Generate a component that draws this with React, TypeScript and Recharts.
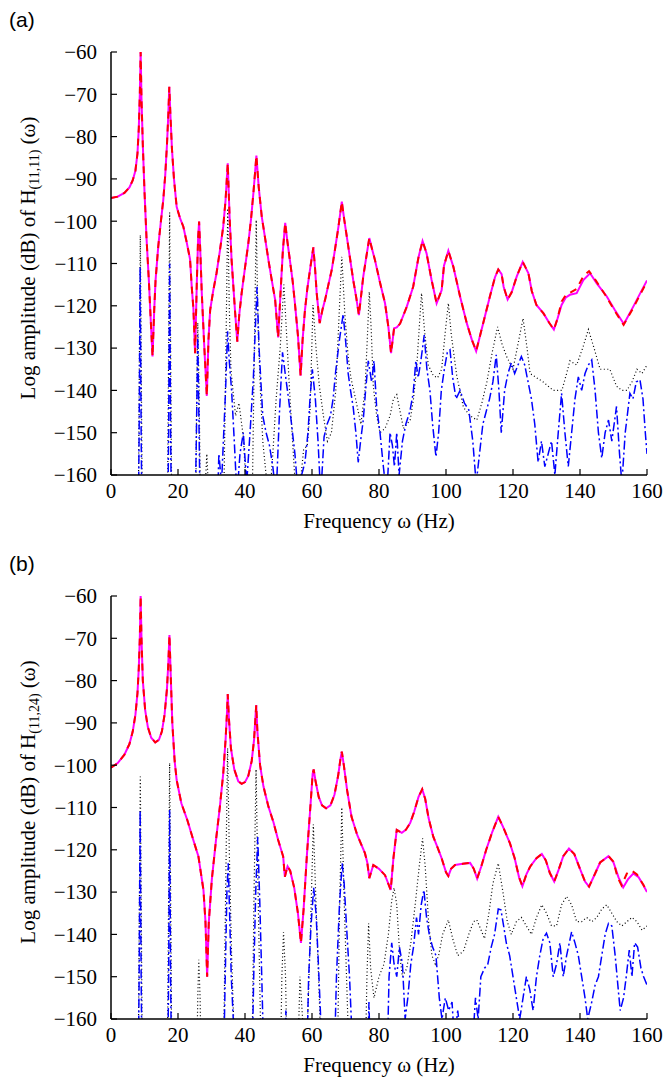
import { Line, LineChart, XAxis, YAxis } from "recharts";

const SERIF = '"Liberation Serif", "Times New Roman", serif';
const SANS = '"Liberation Sans", Arial, sans-serif';

const FREQ_TICKS = [0, 20, 40, 60, 80, 100, 120, 140, 160];
const DB_TICKS = [-160, -150, -140, -130, -120, -110, -100, -90, -80, -70, -60];

// (a) H(11,11) -- [frequency Hz, dB]
const UPPER_A = [
  [0, -94.5], [2, -94.2], [4, -93.3], [5.5, -92], [6.5, -90.3], [7.3, -88], [7.9, -84], [8.3, -78],
  [8.6, -70], [8.85, -60], [9.1, -71], [9.5, -82], [10, -93], [10.6, -104], [11.3, -114], [11.9, -124],
  [12.4, -132], [12.9, -121], [13.3, -114], [14.1, -106], [14.9, -100], [15.6, -95], [16.2, -89],
  [16.7, -82], [17.1, -75], [17.4, -68.2], [17.8, -76], [18.2, -83], [18.8, -90], [19.6, -96.6],
  [20.6, -99.3], [21.6, -101.3], [22.6, -105], [23.6, -109], [24.1, -115.5], [24.6, -120.7],
  [25.1, -131.2], [25.6, -115], [26, -104], [26.3, -100.1], [26.7, -108], [27.1, -117], [27.8, -128.9],
  [28.6, -141.3], [29.1, -128], [29.6, -121], [30.5, -116.5], [31.5, -112.3], [32.5, -107],
  [33.5, -101.3], [34.2, -95], [34.85, -86.3], [35.4, -99], [36, -109.2], [37, -121], [37.7, -128.5],
  [38.3, -122], [39, -117], [40, -111], [41, -105.2], [41.8, -99.5], [42.5, -93.4], [43, -88.5],
  [43.4, -84.5], [44.1, -92], [45, -98.9], [46, -104], [47, -109.2], [48, -114], [49, -118.6],
  [49.9, -127.5], [50.6, -117], [51.3, -107], [52, -100.4], [52.6, -104.5], [53.4, -109.2], [54.2, -114],
  [54.9, -119.4], [55.8, -127], [56.6, -136.5], [57.2, -128], [57.9, -121], [58.6, -116], [59.4, -111.5],
  [60.4, -106.2], [60.9, -111], [61.4, -117], [62.3, -124.1], [63.1, -121], [63.9, -118.6], [64.9, -115],
  [65.9, -111.5], [66.9, -106.5], [67.9, -101.3], [68.9, -95.4], [69.6, -99.5], [70.4, -103.7],
  [71.3, -108.5], [72.3, -113.9], [73.2, -118], [74, -122.2], [74.6, -118], [75.3, -113.1], [76.2, -108.5],
  [77.1, -104], [77.9, -106.5], [78.8, -109.2], [80.3, -114.5], [81.8, -119.4], [82.8, -125],
  [83.6, -131.2], [84.5, -125.3], [85.3, -125.1], [86.3, -124.2], [88.3, -120.2], [90.2, -115.5],
  [91.8, -108.5], [93, -104.7], [94.2, -107.6], [95.7, -113.9], [97.2, -119.4], [98.7, -116.3],
  [99.4, -110.5], [100.7, -107], [102.2, -110.8], [104.2, -117.8], [106.2, -124.1], [107.7, -128],
  [109, -130.7], [111.1, -124.1], [113.1, -117.8], [114.6, -113.3], [115.6, -111.4], [116.6, -112.5],
  [117.2, -115.5], [118.4, -118.5], [119.6, -116.8], [121.1, -113.1], [122.9, -109.6], [124.6, -112.3],
  [125.6, -116.5], [127, -119.8], [129.1, -121.8], [130.8, -124], [132.2, -125.6], [133.3, -123],
  [134.5, -119.8], [135.8, -118], [137, -117.4], [139, -117], [141, -113.9], [143, -112.3], [145, -114.7],
  [148, -117.8], [150.4, -121], [153.1, -124.3], [155.9, -120.2], [158, -117], [160, -114],
];
const RED_A_TAIL = [
  [134.5, -119], [135.8, -117.4], [137, -116.9], [139, -116], [141, -113], [142.7, -111.8],
  [144.7, -114], [147.6, -117.5], [150.2, -121], [153, -124.5], [155.9, -120.5], [158, -117.3], [160, -114.3],
];
const DOTTED_A = [
  [0, -175], [8.1, -175], [8.5, -130], [8.75, -103.3], [9, -130], [9.4, -175], [16.8, -175], [17.2, -130],
  [17.5, -97.9], [17.8, -130], [18.2, -175], [25.2, -175], [25.6, -140], [25.9, -124], [26.3, -140],
  [26.8, -175], [28, -165], [28.6, -155], [29.2, -165], [30, -175], [33.5, -175], [34.4, -125],
  [34.85, -97], [35.3, -120], [35.8, -135], [36.4, -140], [37.2, -146], [38.2, -143], [39.5, -151],
  [40.5, -165], [42, -175], [42.8, -130], [43.35, -99.7], [43.9, -125], [44.6, -140], [45.3, -152],
  [46.3, -160], [47, -170], [48.3, -155], [49.3, -142], [50.5, -130], [51.6, -115], [52.5, -128],
  [53.3, -140], [54.2, -152], [55.2, -165], [56.5, -162], [57.5, -154], [58.6, -153], [59.4, -145],
  [60.3, -119.8], [61.2, -130], [62.2, -139], [63.4, -146], [64.6, -152], [65.8, -150], [67.1, -140],
  [68.1, -122], [68.9, -108.4], [69.8, -122], [70.8, -132], [71.6, -137], [73, -142], [74.6, -148],
  [75.8, -140], [76.5, -128], [77.1, -116.7], [77.7, -126], [78.3, -139], [79.3, -146], [80.3, -150],
  [81.8, -149], [83.3, -146], [84.3, -142], [85.3, -141], [86.3, -145], [87.3, -149], [89.3, -147],
  [90.3, -142], [91.3, -134], [92.1, -124], [92.7, -117], [93.6, -126], [94.7, -134], [96.2, -136.5],
  [97.5, -137], [98.7, -135], [99.8, -126], [100.7, -119.4], [101.6, -127], [103.2, -136.5], [105.2, -144],
  [107.2, -146], [109.2, -147], [110.7, -143], [112.2, -138], [113.8, -131], [115.4, -125], [116.7, -129],
  [118.1, -132], [120, -135], [121.5, -129], [123, -123], [124.2, -130], [125.1, -136], [127, -137],
  [129, -138], [130.5, -139], [132, -140], [134.6, -140], [136, -136], [137, -133], [139, -134],
  [140.8, -130], [142.5, -125.6], [144.2, -130], [146, -135], [148.9, -135], [150.9, -139], [152.5, -140],
  [154, -140], [155.5, -138], [157, -135], [158.5, -136], [160, -134],
];
const BLUE_A = [
  [0, -175], [8.1, -175], [8.4, -150], [8.7, -110.7], [9, -150], [9.3, -175], [16.9, -175], [17.2, -150],
  [17.5, -110], [17.8, -150], [18.1, -175], [25, -175], [25.5, -150], [25.9, -127], [26.3, -150],
  [26.7, -175], [31.5, -175], [32.2, -155], [33, -162], [34.2, -140], [34.8, -126], [35.3, -133],
  [36, -140], [36.8, -152], [37.6, -165], [38.5, -155], [39.5, -150], [40.5, -162], [41.5, -150],
  [42.5, -137], [43.1, -125], [43.6, -115.5], [44.2, -130], [45.3, -146], [46.3, -150], [47.3, -153],
  [48.3, -158], [49.3, -165], [50.3, -145], [51.2, -131], [52, -136], [53, -142], [53.9, -148],
  [54.9, -155], [55.9, -165], [56.9, -160], [57.9, -157], [58.8, -150], [59.4, -142], [60.1, -135],
  [61, -142], [61.8, -152], [62.6, -165], [63.6, -151], [64.5, -148], [65.5, -146], [66.3, -142],
  [67, -136], [68.2, -128], [69.3, -122], [70, -128], [70.8, -136], [71.5, -140], [72.3, -144],
  [73.1, -150], [73.8, -157], [74.5, -152], [75.3, -147], [76, -140], [76.8, -133], [77.8, -138],
  [78.5, -133], [79.3, -144], [80.3, -150], [81.3, -158], [82.3, -165], [83.3, -150], [84, -153],
  [84.6, -158], [85.3, -150], [86, -160], [87, -152], [88, -148], [89.2, -145], [90.2, -140.7], [91, -133],
  [91.7, -137], [92.5, -133], [93.5, -126.9], [94.3, -135], [95.2, -140], [96, -148], [97, -155.7],
  [97.8, -150], [98.6, -140], [99.5, -135], [100.4, -131], [101.2, -130.4], [102, -137], [103, -142],
  [104.2, -140], [105.5, -143], [106.8, -144.6], [108, -152], [109, -162], [110, -155], [111, -148],
  [112, -145], [113, -142], [114, -138], [115, -131.6], [115.8, -140], [116.5, -150], [117.5, -140],
  [118.5, -136], [119.5, -133.5], [120.5, -136], [121.5, -134], [122.5, -132], [123.5, -134],
  [124.5, -138], [125.5, -142], [126.5, -148], [127.5, -157], [128.5, -152], [129.5, -158], [130.5, -155],
  [131.5, -152], [132.5, -160], [133.5, -150], [134.5, -140.7], [135.5, -150], [136.5, -158],
  [137.5, -150], [138.5, -142], [139.5, -136.8], [140.5, -140], [141.5, -136], [142.5, -134],
  [143.5, -132.8], [144.5, -140], [145.5, -150], [146.5, -156], [147.5, -150], [148.5, -147],
  [149.5, -152], [150.9, -143.8], [151.8, -155], [152.5, -162], [153.5, -150], [154.9, -140.7],
  [155.8, -142], [156.8, -138], [157.9, -137.5], [158.8, -142], [159.5, -150], [160, -155],
];

// (b) H(11,24)
const UPPER_B = [
  [0, -100.6], [2, -99.5], [4, -97.5], [5.5, -95], [6.5, -92], [7.3, -88], [7.9, -83], [8.3, -77],
  [8.6, -70], [8.85, -60], [9.1, -70], [9.5, -80], [10.2, -87], [11, -91], [12, -93.5], [13.2, -94.6],
  [14.3, -94], [15.2, -92], [16, -88], [16.7, -82], [17.1, -76], [17.45, -69.2], [17.8, -78], [18.3, -90],
  [19, -99], [19.6, -103.5], [21, -109], [22.8, -113], [24.5, -117.5], [26.1, -121.6], [27.6, -129.5],
  [28.2, -137], [28.7, -150], [29.2, -137], [30.1, -127], [31.3, -118], [32.5, -109.8], [33.5, -102],
  [34.2, -94], [34.6, -88], [34.85, -83.2], [35.2, -89], [35.8, -96], [36.8, -101], [38, -103.8],
  [39, -104.4], [40, -104], [41, -102.5], [42, -99], [42.7, -94], [43.1, -89], [43.35, -85.8], [43.7, -92],
  [44.5, -100], [45.5, -105], [47, -109.8], [48.5, -113.5], [49.9, -117.7], [51.4, -121.6],
  [51.9, -126.4], [52.7, -123.9], [53.5, -125], [54.7, -129], [55.8, -135], [56.7, -142], [57.5, -134],
  [58.5, -121], [59.5, -110], [60.2, -102], [60.5, -101], [61, -103.5], [62, -107.5], [63, -109.5],
  [64.2, -110.2], [65.5, -109.5], [66.7, -107], [67.8, -102.5], [68.5, -98.5], [68.9, -96.8], [69.5, -100],
  [70.5, -106], [71.8, -112.2], [73.5, -116.5], [75.8, -120.8], [76.5, -123], [77.1, -126.7],
  [78.3, -123.6], [80, -124.5], [81.8, -126], [83.5, -129.5], [84.3, -122], [85.3, -115.3], [86.8, -116],
  [88, -115.3], [89.3, -113.7], [90.5, -111], [91.8, -107.5], [92.9, -105.7], [93.8, -108], [94.8, -112.5],
  [96.2, -116.9], [97.5, -119.5], [98.7, -122], [100, -125.3], [100.7, -126.2], [101.5, -124.5],
  [102.7, -123.6], [105, -123.3], [107.2, -123.1], [108.3, -124.5], [109.3, -126.8], [110.5, -124],
  [112, -120], [113.8, -115.8], [115.6, -112.2], [117, -114.5], [119.1, -118.5], [120.5, -122],
  [121.8, -126.5], [122.8, -128.6], [124, -125.8], [125.1, -124], [127, -122], [128.6, -121],
  [129.8, -122.5], [131, -125.5], [132.3, -127.5], [133.5, -125], [135, -121.5], [136.7, -119.7],
  [138.3, -121], [140, -124.5], [141.5, -127.5], [142.7, -128.7], [144, -126.5], [146, -123],
  [148.5, -121.5], [150, -123], [151.5, -126.5], [152.9, -128.9], [154.3, -127], [155.9, -125.6],
  [157.5, -126.5], [159, -128.5], [160, -130],
];
const RED_B_TAIL = [
  [150, -122.8], [151.2, -126.5], [152.4, -128.4], [154, -125.6], [155.4, -124.9], [157, -125.8],
  [159, -128.4], [160, -130],
];
const DOTTED_B = [
  [0, -175], [8.1, -175], [8.5, -130], [8.75, -102.7], [9, -130], [9.4, -175], [16.8, -175], [17.2, -130],
  [17.5, -99.5], [17.8, -130], [18.2, -175], [25.5, -175], [25.9, -155], [26.2, -146], [26.6, -155],
  [27, -175], [33.5, -175], [34.3, -125], [34.8, -96], [35.3, -120], [36, -145], [36.8, -165], [42, -175],
  [42.7, -130], [43.3, -101], [43.9, -130], [44.6, -160], [45.3, -175], [50.5, -175], [51, -150],
  [51.5, -139.5], [52.1, -150], [52.7, -175], [55.6, -175], [56.4, -150], [57.2, -160], [58.5, -165],
  [59.5, -140], [60.4, -114], [61.3, -135], [62.3, -158], [63, -175], [67.5, -175], [68.2, -135],
  [68.9, -110], [69.6, -132], [70.5, -155], [71.3, -175], [75.8, -175], [76.4, -150], [76.9, -137.4],
  [77.5, -148], [78.5, -155], [80, -150], [81.5, -147], [82.8, -140], [83.8, -132], [84.5, -129],
  [85.3, -133], [86.2, -145], [87, -150], [88.3, -148], [89.5, -142], [90.8, -133], [92, -124],
  [93, -117.3], [93.8, -124], [94.8, -137], [95.8, -145], [96.8, -147], [97.8, -145], [99, -140],
  [100.7, -136.6], [102, -141], [103.5, -145], [105.2, -144], [106.8, -140], [108.2, -137],
  [109.2, -136.6], [110.5, -139], [111.5, -141], [112.8, -135], [114, -128], [115.6, -123.2], [117, -130],
  [118.3, -137], [119.5, -140], [121, -137], [122.5, -136], [124, -138], [125.5, -140], [127, -136],
  [128.6, -133], [130, -135], [131.5, -138], [133, -138], [134.5, -133], [136, -131], [137.5, -133],
  [139, -137], [140.5, -137], [142, -136], [143.5, -137], [145, -136], [146.5, -134], [148, -133],
  [149.5, -135], [151, -137], [152.5, -138], [154, -137], [155.5, -136], [157, -137], [158.5, -139],
  [160, -138],
];
const BLUE_B = [
  [0, -175], [8.1, -175], [8.4, -150], [8.7, -110.6], [9, -150], [9.3, -175], [16.9, -175], [17.2, -150],
  [17.5, -110.6], [17.8, -150], [18.1, -175], [33.5, -175], [34.1, -150], [34.6, -130], [35, -123.2],
  [35.4, -135], [35.9, -150], [36.5, -160], [37.2, -175], [42, -175], [42.6, -150], [43.2, -130],
  [43.8, -117], [44.4, -132], [45, -150], [45.8, -175], [51.8, -175], [52.2, -158], [52.8, -175],
  [58.3, -175], [59, -150], [59.7, -138], [60.5, -129], [61.2, -135], [61.8, -145], [62.5, -158],
  [63.2, -175], [66.5, -175], [67.3, -150], [68.2, -133], [69, -123.2], [69.6, -128], [70.3, -138],
  [71.2, -150], [72, -165], [73, -175], [76.5, -175], [77, -156], [77.6, -175], [82.3, -175], [83, -150],
  [83.8, -142], [84.5, -147], [85.3, -150], [86.1, -143], [87, -147], [87.8, -160], [88.6, -155],
  [89.5, -147], [90.3, -143], [91.2, -136], [91.8, -140], [92.6, -133], [93.4, -129.5], [94.2, -136],
  [95, -140], [96, -143], [97, -145], [98, -155], [98.8, -160], [99.8, -155], [100.8, -158], [101.8, -156],
  [102.5, -165], [103.5, -158], [104.5, -165], [106, -175], [108, -165], [108.8, -155], [109.6, -160],
  [110.4, -150], [111.5, -148], [112.5, -147], [113.5, -143], [114.5, -140], [115.6, -134],
  [116.4, -134.2], [117.2, -138], [118, -142], [119, -145], [120, -150], [121, -155], [122, -160],
  [123, -155], [124, -150], [125, -153], [126, -158], [127, -150], [128, -145], [129, -141],
  [130, -139.7], [131, -142], [132, -150], [133, -147], [134, -142], [135, -150], [136, -145],
  [137.5, -139.4], [138.5, -142], [139.5, -145], [140.5, -150], [141.5, -155], [142.3, -160],
  [143.5, -156], [144.5, -152], [145.5, -150], [146.5, -145], [147.5, -140], [148.5, -137.4],
  [149.5, -138], [150.5, -145], [151.3, -152], [152, -158], [153, -155], [153.8, -150], [154.7, -143.7],
  [155.5, -150], [156.3, -142], [157.2, -143], [158.2, -148], [159, -150], [160, -152],
];

const RED_A = [...UPPER_A.filter(([f]) => f < 134), ...RED_A_TAIL];
const RED_B = [...UPPER_B.filter(([f]) => f < 150), ...RED_B_TAIL];

const toPts = (arr: number[][]) => arr.map(([f, v]) => ({ f, v }));
const fmtDb = (v: number) => (v < 0 ? "\u2212" + Math.abs(v) : String(v));

const axisLine = { stroke: "#000", strokeWidth: 1.5 };
const tickLine = { stroke: "#000", strokeWidth: 1.2 };

const FreqTick = (props: any) => (
  <text x={props.x} y={props.y} dy="0.71em" textAnchor="middle" fontSize={21} fontFamily={SERIF} fill="#000">
    {props.payload.value}
  </text>
);
const DbTick = (props: any) => (
  <text x={props.x} y={props.y} dy="0.35em" textAnchor="end" fontSize={21} fontFamily={SERIF} fill="#000">
    {fmtDb(props.payload.value)}
  </text>
);

type PanelProps = {
  top: number;
  letter: string;
  sub: string;
  magenta: number[][];
  red: number[][];
  dotted: number[][];
  blue: number[][];
};

function Panel({ top, letter, sub, magenta, red, dotted, blue }: PanelProps) {
  return (
    <div style={{ position: "absolute", left: 0, top, width: 664, height: 544 }}>
      <LineChart width={664} height={544} margin={{ top: 52, right: 17, bottom: 9, left: 51 }}>
        <XAxis
          dataKey="f"
          type="number"
          domain={[0, 160]}
          ticks={FREQ_TICKS}
          interval={0}
          height={60}
          tickSize={-6}
          tickMargin={14}
          axisLine={axisLine}
          tickLine={tickLine}
          tick={FreqTick}
          allowDataOverflow
        />
        <XAxis
          xAxisId="top"
          orientation="top"
          type="number"
          domain={[0, 160]}
          ticks={FREQ_TICKS}
          interval={0}
          height={0}
          tickSize={-6}
          axisLine={axisLine}
          tickLine={tickLine}
          tick={false}
        />
        <YAxis
          type="number"
          domain={[-160, -60]}
          ticks={DB_TICKS}
          interval={0}
          width={60}
          tickSize={-6}
          tickMargin={20}
          axisLine={axisLine}
          tickLine={tickLine}
          tick={DbTick}
          allowDataOverflow
        />
        <YAxis
          yAxisId="right"
          orientation="right"
          type="number"
          domain={[-160, -60]}
          ticks={DB_TICKS}
          interval={0}
          width={0}
          tickSize={-6}
          axisLine={axisLine}
          tickLine={tickLine}
          tick={false}
        />
        <Line
          data={toPts(dotted)}
          dataKey="v"
          type="linear"
          stroke="#000"
          strokeWidth={1.2}
          strokeDasharray="1 2.5"
          dot={false}
          isAnimationActive={false}
        />
        <Line
          data={toPts(blue)}
          dataKey="v"
          type="linear"
          stroke="#0000ff"
          strokeWidth={1.5}
          strokeDasharray="9 3 2 3"
          dot={false}
          isAnimationActive={false}
        />
        <Line
          data={toPts(magenta)}
          dataKey="v"
          type="linear"
          stroke="#ff00ff"
          strokeWidth={2}
          dot={false}
          isAnimationActive={false}
        />
        <Line
          data={toPts(red)}
          dataKey="v"
          type="linear"
          stroke="#ff0000"
          strokeWidth={2}
          strokeDasharray="7 6"
          dot={false}
          isAnimationActive={false}
        />
      </LineChart>
      <svg
        width={664}
        height={544}
        style={{ position: "absolute", left: 0, top: 0, pointerEvents: "none" }}
      >
        <text x={9} y={27} fontSize={21} fontFamily={SANS} fill="#000">
          {letter}
        </text>
        <text
          transform="translate(35,258) rotate(-90)"
          textAnchor="middle"
          fontSize={21}
          fontFamily={SERIF}
          fill="#000"
        >
          Log amplitude (dB) of H
          <tspan fontSize={14} dy={4}>
            {sub}
          </tspan>
          <tspan dy={-4}> (ω)</tspan>
        </text>
        <text x={379} y={528} textAnchor="middle" fontSize={21} fontFamily={SERIF} fill="#000">
          Frequency ω (Hz)
        </text>
      </svg>
    </div>
  );
}

export default function App() {
  return (
    <div
      style={{
        position: "absolute",
        left: 0,
        top: 0,
        width: 664,
        height: 1085,
        background: "#fff",
        overflow: "hidden",
      }}
    >
      <Panel top={0} letter="(a)" sub="(11,11)" magenta={UPPER_A} red={RED_A} dotted={DOTTED_A} blue={BLUE_A} />
      <Panel top={544} letter="(b)" sub="(11,24)" magenta={UPPER_B} red={RED_B} dotted={DOTTED_B} blue={BLUE_B} />
    </div>
  );
}
